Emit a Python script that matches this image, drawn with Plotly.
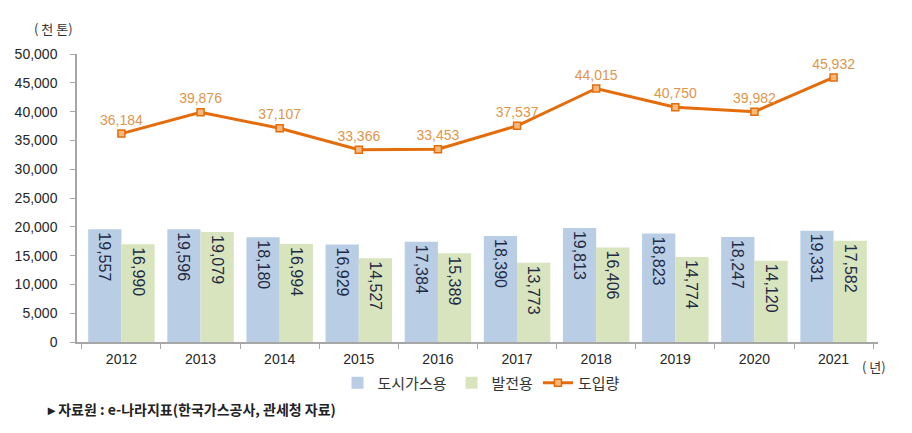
import plotly.graph_objects as go

years = ["2012", "2013", "2014", "2015", "2016", "2017", "2018", "2019", "2020", "2021"]
city_gas = [19557, 19596, 18180, 16929, 17384, 18390, 19813, 18823, 18247, 19331]
power = [16990, 19079, 16994, 14527, 15389, 13773, 16406, 14774, 14120, 17582]
imports = [36184, 39876, 37107, 33366, 33453, 37537, 44015, 40750, 39982, 45932]
y_ticks = [0, 5000, 10000, 15000, 20000, 25000, 30000, 35000, 40000, 45000, 50000]

KR = "Noto Sans CJK KR"
NUM = "Liberation Sans"

fig = go.Figure()
fig.add_trace(go.Bar(
    x=years, y=city_gas, name="도시가스용",
    marker=dict(color="#B9CDE5", line=dict(width=0)),
    text=[f"{v:,}" for v in city_gas], textposition="inside",
    insidetextanchor="end", textangle=90,
    textfont=dict(family=NUM, size=16, color="#1F2A44"),
))
fig.add_trace(go.Bar(
    x=years, y=power, name="발전용",
    marker=dict(color="#D7E4BD", line=dict(width=0)),
    text=[f"{v:,}" for v in power], textposition="inside",
    insidetextanchor="end", textangle=90,
    textfont=dict(family=NUM, size=16, color="#1F2A44"),
))
fig.add_trace(go.Scatter(
    x=years, y=imports, name="도입량", mode="lines+markers+text",
    line=dict(color="#E46C0A", width=3),
    marker=dict(symbol="square", size=7, color="#F9B97A", line=dict(color="#E46C0A", width=1.5)),
    text=[f"{v:,}" for v in imports], textposition="top center",
    textfont=dict(family=NUM, size=14, color="#E0954A"),
))

# page has an 8px body margin, so the figure is 904x425 placed at (8, 8)
fig.update_layout(
    width=904, height=425,
    margin=dict(l=69, r=34, t=46, b=91, autoexpand=False),
    paper_bgcolor="white", plot_bgcolor="white",
    barmode="group", bargap=0.16, bargroupgap=0,
    font=dict(family=KR, size=13, color="#333333"),
    uniformtext=dict(minsize=8, mode="show"),
    legend=dict(orientation="h", x=0.505, xanchor="center", y=-0.142, yanchor="middle",
                font=dict(family=KR, size=15, color="#333333"),
                traceorder="normal", itemwidth=30, bgcolor="rgba(0,0,0,0)",
                tracegroupgap=0),
    showlegend=True,
)
fig.update_xaxes(
    type="category", showline=True, linecolor="#A6A6A6", linewidth=1.5,
    ticks="outside", tickson="boundaries", ticklen=5, tickcolor="#A6A6A6",
    ticklabelstandoff=3,
    tickfont=dict(family=NUM, size=14, color="#262626"), showgrid=False,
)
fig.update_yaxes(
    range=[0, 50000], tickvals=y_ticks, tickformat=",d",
    showline=True, linecolor="#A6A6A6", linewidth=1.5,
    ticks="outside", ticklen=5, tickcolor="#A6A6A6",
    ticklabelstandoff=10,
    tickfont=dict(family=NUM, size=14, color="#262626"), showgrid=False, zeroline=False,
)

fig.add_annotation(text="( 천 톤)", xref="paper", yref="paper", x=-0.0025, y=1.09,
                   xanchor="right", yanchor="middle", showarrow=False,
                   font=dict(family=KR, size=13, color="#333333"))
fig.add_annotation(text="( 년)", xref="paper", yref="paper", x=0.9775, y=-0.085,
                   xanchor="left", yanchor="middle", showarrow=False,
                   font=dict(family=KR, size=13, color="#333333"))
fig.add_annotation(text="<b>▸ 자료원 : e-나라지표(한국가스공사, 관세청 자료)</b>", xref="paper", yref="paper",
                   x=-0.040, y=-0.233, xanchor="left", yanchor="middle", showarrow=False,
                   font=dict(family=KR, size=14, color="#222222"))

fig.write_html("out.html")
